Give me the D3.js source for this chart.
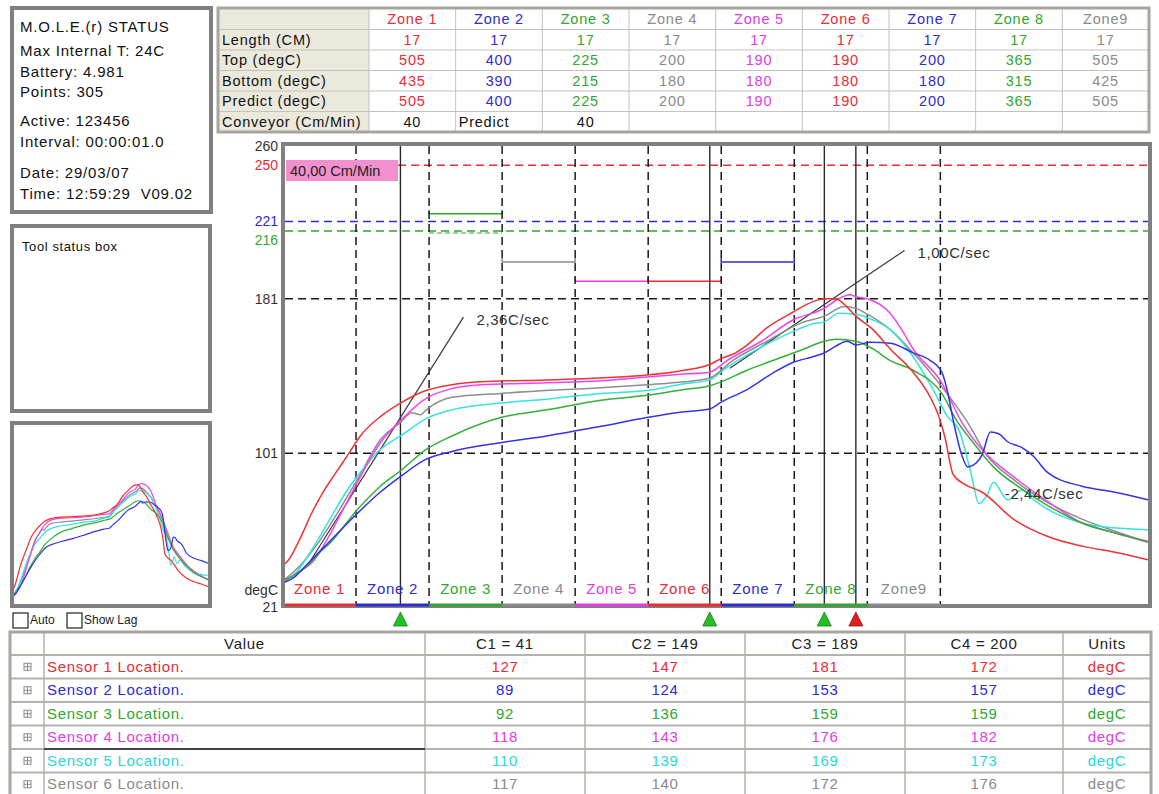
<!DOCTYPE html>
<html>
<head>
<meta charset="utf-8">
<script src="https://cdn.jsdelivr.net/npm/d3@7"></script>
<style>
  body { margin: 0; background: #fff; }
  svg text { font-family: "Liberation Sans", Arial, sans-serif; white-space: pre; }
</style>
</head>
<body>
<svg id="view" width="1159" height="794"></svg>
<script>
// ---- oven set-up ----
const zoneNames   = ["Zone 1", "Zone 2", "Zone 3", "Zone 4", "Zone 5", "Zone 6", "Zone 7", "Zone 8", "Zone9"];
const zoneLength  = [17, 17, 17, 17, 17, 17, 17, 17, 17];
const zoneTop     = [505, 400, 225, 200, 190, 190, 200, 365, 505];
const zoneBottom  = [435, 390, 215, 180, 180, 180, 180, 315, 425];
const zonePredict = [505, 400, 225, 200, 190, 190, 200, 365, 505];
const conveyorRow = ["40", "Predict", "40", "", "", "", "", "", ""];
const conveyorSpeed = 40; // cm/min
const tableRowLabels = ["Length (CM)", "Top (degC)", "Bottom (degC)", "Predict (degC)", "Conveyor (Cm/Min)"];

// ---- logger status ----
const statusLines = [
  "M.O.L.E.(r) STATUS", "Max Internal T: 24C", "Battery: 4.981", "Points: 305",
  "Active: 123456", "Interval: 00:00:01.0", "Date: 29/03/07", "Time: 12:59:29  V09.02"
];

// ---- axis ----
const yTicks = [260, 250, 221, 216, 181, 101, 21];
const gridLevels = [181, 101];
const limitLevels = [250, 221, 216];

// ---- sensor profiles: [seconds, degC] ----
const sensorNames = ["Sensor 1 Location.", "Sensor 2 Location.", "Sensor 3 Location.",
                     "Sensor 4 Location.", "Sensor 5 Location.", "Sensor 6 Location."];
const sensor1 = [[0,43],[2,46],[6,57],[10,70],[14,81],[18,90],[23,101],[27,110],[34,120],[41,127],[49,133],[59,136.5],[69,138],[92,139],[111,140],[127,141.5],[140,144],[149,147],[153,150],[158,153],[162,157],[169,166],[178,174],[185,179.5],[189,181],[193,181],[196,178],[200,172],[206,165],[212,155],[220,143],[226,130],[229,120],[231,110],[234,90],[238,85],[244,81],[255,67],[267,58],[279,53],[290,50],[302,46]];
const sensor2 = [[0,34],[4,37],[8,43],[16,55],[26,70],[34,81],[41,89],[50,98],[59,102],[76,106.5],[92,110],[111,115],[127,119.5],[140,122.5],[149,124],[153,127.5],[162,134],[171,142.5],[178,148],[185,151],[189,153],[193,156.5],[197,159],[200,157],[205,158.5],[212,158],[220,153],[226,149],[230,143],[232,133],[234,118],[237,100],[239,94],[242,96],[244,100],[247,112],[250,111],[253,107],[258,104],[262,99.5],[267,91],[279,84],[290,81],[302,77]];
const sensor3 = [[0,35],[5,39],[10,45],[13,50],[16,54],[26,72],[34,84],[41,92],[50,103],[59,110],[76,119.5],[92,123.5],[111,128.5],[127,131],[140,134],[149,136],[153,138],[162,144],[171,149],[181,154.5],[189,159],[193,160],[200,159],[206,155],[212,149],[220,144],[230,132],[235,118.5],[241,106.5],[248,94],[258,82.5],[267,74],[279,65],[290,60],[302,55.5]];
const sensor4 = [[0,35],[6,40],[11,46],[16,58],[21,72],[26,86],[30,97],[34,106.5],[41,118],[50,129.5],[59,134.5],[69,136.5],[92,137.5],[111,138.5],[127,140.5],[140,142],[149,143],[155,149],[167,159],[178,170],[189,176],[194,181],[198,183],[200,182],[204,181],[212,173.5],[216,165],[220,155],[230,137.5],[237,117],[244,103],[255,89],[267,76],[279,65],[290,60],[302,55]];
const sensor5 = [[0,34],[5,40],[10,51],[16,66],[22,81],[28,93],[34,103],[41,110],[50,119],[59,123.5],[76,127],[92,129],[111,132],[127,133.5],[140,137],[149,139],[155,145.5],[167,156],[178,164],[185,168],[189,169],[194,173.5],[200,173],[206,170],[212,165],[220,151],[227,134],[232,120],[236,113],[240,92],[243,75],[246,80],[248,86],[253,77],[258,82],[262,77],[267,72],[279,65],[290,62.5],[302,61.5]];
const sensor6 = [[0,35],[6,43],[11,52],[16,63],[21,75],[26,87.5],[34,108],[41,117],[45,122],[48,121],[50,123.5],[59,130],[76,132],[111,135],[127,136.5],[140,138],[149,140],[157,149],[169,159],[181,168.5],[189,172],[196,177],[200,176],[204,173],[212,165],[220,153],[230,135.5],[239,117],[246,99.5],[255,87.5],[267,75.5],[279,67],[290,61],[302,55]];
const sensorProfiles = [sensor1, sensor2, sensor3, sensor4, sensor5, sensor6];

// ---- cursors and their readings ----
const cursorTimes = [41, 149, 189, 200];
const cursorMarkers = ["#22c022", "#22c022", "#22c022", "#e02020"];
const readingsC1 = [127, 89, 92, 118, 110, 117];
const readingsC2 = [147, 124, 136, 143, 139, 140];
const readingsC3 = [181, 153, 159, 176, 169, 172];
const readingsC4 = [172, 157, 159, 182, 173, 176];
const cursorReadings = [readingsC1, readingsC2, readingsC3, readingsC4];

// ---- slope annotations: [t0, v0, t1, label, rate] ----
const slopeRise = [9, 44, 63, "2,36C/sec", 2.36];
const slopePeak = [156, 145, 217, "1,00C/sec", 1.00];
const slopeFall = [252, 80, "-2,44C/sec"];

// ---- palette ----
const C = {
  red: "#ec2b35", blue: "#2c2cd6", green: "#2ea82e", gray: "#8a8a8a",
  magenta: "#e63ae6", cyan: "#28d8d8"
};
const zoneColors   = [C.red, C.blue, C.green, C.gray, C.magenta, C.red, C.blue, C.green, C.gray];
const sensorColors = ["#f03232", "#3434e2", "#34b034", "#f044f0", "#36e2e2", "#8e8e8e"];
const sensorTextColors = [C.red, C.blue, C.green, C.magenta, C.cyan, C.gray];
const frameGray = "#808080";

const svg = d3.select("#view");

// ======== status box ========
svg.append("rect").attr("x", 12).attr("y", 8).attr("width", 199).attr("height", 204)
  .attr("fill", "#fff").attr("stroke", frameGray).attr("stroke-width", 4);
const statusY = [32, 56, 77, 97, 126, 147, 178, 199];
svg.selectAll("text.status").data(statusLines).join("text")
  .attr("class", "status").attr("x", 20).attr("y", (d, i) => statusY[i])
  .attr("font-size", 15).attr("letter-spacing", 0.8).attr("fill", "#111").text(d => d);

// ======== tool status box ========
svg.append("rect").attr("x", 12).attr("y", 226).attr("width", 198).attr("height", 185)
  .attr("fill", "#fff").attr("stroke", frameGray).attr("stroke-width", 4);
svg.append("text").attr("x", 22).attr("y", 251).attr("font-size", 13).attr("letter-spacing", 0.6)
  .attr("fill", "#111").text("Tool status box");

// ======== zone table ========
(function zoneTable() {
  const x0 = 218, x1 = 1149, labelW = 151, top = 9, rowH = 20.5;
  const colW = (x1 - x0 - labelW) / zoneNames.length;
  const nRows = 1 + tableRowLabels.length;
  const fs = 14.5, ls = 0.8;
  const g = svg.append("g");
  g.append("rect").attr("x", x0).attr("y", top).attr("width", x1 - x0).attr("height", nRows * rowH)
    .attr("fill", "#fff");
  g.append("rect").attr("x", x0).attr("y", top).attr("width", labelW).attr("height", nRows * rowH)
    .attr("fill", "#ebe8dc");
  for (let r = 1; r < nRows; r++) {
    g.append("line").attr("x1", x0).attr("x2", x1).attr("y1", top + r * rowH).attr("y2", top + r * rowH)
      .attr("stroke", "#c4c2bc").attr("stroke-width", 1);
  }
  for (let c = 0; c <= zoneNames.length; c++) {
    const xx = x0 + labelW + c * colW;
    g.append("line").attr("x1", xx).attr("x2", xx).attr("y1", top).attr("y2", top + nRows * rowH)
      .attr("stroke", "#c4c2bc").attr("stroke-width", 1);
  }
  g.append("rect").attr("x", x0).attr("y", top - 1).attr("width", x1 - x0).attr("height", nRows * rowH + 1)
    .attr("fill", "none").attr("stroke", "#a6a59e").attr("stroke-width", 3);

  const cx = i => x0 + labelW + (i + 0.5) * colW;
  const rowY = r => top + r * rowH + rowH / 2 + 5;
  g.selectAll("text.zh").data(zoneNames).join("text").attr("class", "zh")
    .attr("x", (d, i) => cx(i)).attr("y", rowY(0)).attr("text-anchor", "middle")
    .attr("font-size", fs).attr("letter-spacing", ls).attr("fill", (d, i) => zoneColors[i]).text(d => d);
  g.selectAll("text.rl").data(tableRowLabels).join("text").attr("class", "rl")
    .attr("x", x0 + 4).attr("y", (d, i) => rowY(i + 1)).attr("font-size", fs).attr("letter-spacing", ls)
    .attr("fill", "#111").text(d => d);
  [zoneLength, zoneTop, zoneBottom, zonePredict].forEach((arr, r) => {
    g.selectAll("text.v" + r).data(arr).join("text").attr("class", "v" + r)
      .attr("x", (d, i) => cx(i)).attr("y", rowY(r + 1)).attr("text-anchor", "middle")
      .attr("font-size", fs).attr("letter-spacing", ls).attr("fill", (d, i) => zoneColors[i]).text(d => d);
  });
  g.selectAll("text.cv").data(conveyorRow).join("text").attr("class", "cv")
    .attr("x", (d, i) => isNaN(+d) ? x0 + labelW + i * colW + 3 : cx(i))
    .attr("y", rowY(5)).attr("text-anchor", d => isNaN(+d) ? "start" : "middle")
    .attr("font-size", fs).attr("letter-spacing", ls).attr("fill", "#111").text(d => d);
})();

// ======== main profile chart ========
const plot = { left: 285, right: 1148, top: 146, bottom: 604 };
const x = d3.scaleLinear().domain([0, 302]).range([283, 1148]);
const y = d3.scaleLinear().domain([21, 260]).range([608, 146]);
const secPerZone = zoneLength.map(l => l / (conveyorSpeed / 60));
const zoneEdges = [0];
secPerZone.forEach(s => zoneEdges.push(zoneEdges[zoneEdges.length - 1] + s));

svg.append("rect").attr("x", plot.left - 2).attr("y", plot.top - 2)
  .attr("width", plot.right - plot.left + 4).attr("height", plot.bottom - plot.top + 4)
  .attr("fill", "#fff");

svg.append("clipPath").attr("id", "plotClip").append("rect")
  .attr("x", plot.left).attr("y", plot.top).attr("width", plot.right - plot.left).attr("height", plot.bottom - plot.top);
const pg = svg.append("g").attr("clip-path", "url(#plotClip)");

// zone set-points: top as a solid bar with end ticks, bottom as a dashed bar
zoneTop.forEach((v, i) => {
  const xa = x(zoneEdges[i]), xb = x(zoneEdges[i + 1]), yy = y(v);
  pg.append("path").attr("d", `M${xa},${yy - 4} V${yy} H${xb} V${yy - 4}`).attr("fill", "none")
    .attr("stroke", zoneColors[i]).attr("stroke-width", 1.5);
});
zoneBottom.forEach((v, i) => {
  if (v > 200) {
    pg.append("line").attr("x1", x(zoneEdges[i])).attr("x2", x(zoneEdges[i + 1])).attr("y1", y(v)).attr("y2", y(v))
      .attr("stroke", zoneColors[i]).attr("stroke-width", 1).attr("stroke-dasharray", "5,3");
  }
});

// limit lines
const limitColors = { 250: C.red, 221: C.blue, 216: C.green };
limitLevels.forEach(v => {
  pg.append("line").attr("x1", v === 250 ? 398 : plot.left).attr("x2", plot.right)
    .attr("y1", y(v)).attr("y2", y(v)).attr("stroke", limitColors[v])
    .attr("stroke-width", 1.5).attr("stroke-dasharray", "8,5");
});

// grid
gridLevels.forEach(v => {
  pg.append("line").attr("x1", plot.left).attr("x2", plot.right).attr("y1", y(v)).attr("y2", y(v))
    .attr("stroke", "#1a1a1a").attr("stroke-width", 1.5).attr("stroke-dasharray", "8,5");
});
zoneEdges.slice(1).forEach(t => {
  pg.append("line").attr("x1", x(t)).attr("x2", x(t)).attr("y1", plot.top).attr("y2", plot.bottom)
    .attr("stroke", "#1a1a1a").attr("stroke-width", 1.5).attr("stroke-dasharray", "8,5");
});

// cursors
cursorTimes.forEach(t => {
  pg.append("line").attr("x1", x(t)).attr("x2", x(t)).attr("y1", plot.top).attr("y2", plot.bottom)
    .attr("stroke", "#2a2a2a").attr("stroke-width", 1.4);
});

// slope annotations
[slopeRise, slopePeak].forEach(s => {
  const [t0, v0, t1, label, rate] = s;
  const v1 = v0 + rate * (t1 - t0);
  pg.append("line").attr("x1", x(t0)).attr("y1", y(v0)).attr("x2", x(t1)).attr("y2", y(v1))
    .attr("stroke", "#3a3a3a").attr("stroke-width", 1.2);
  pg.append("text").attr("x", x(t1) + 13).attr("y", y(v1) + 8).attr("font-size", 15)
    .attr("letter-spacing", 0.6).attr("fill", "#333").text(label);
});

// sensor curves
const line = d3.line().x(d => x(d[0])).y(d => y(d[1])).curve(d3.curveMonotoneX);
sensorProfiles.slice().reverse().forEach((p, k) => {
  const i = sensorProfiles.length - 1 - k;
  pg.append("path").attr("d", line(p)).attr("fill", "none")
    .attr("stroke", sensorColors[i]).attr("stroke-width", 1.5);
});

pg.append("text").attr("x", x(slopeFall[0])).attr("y", y(slopeFall[1]) + 5).attr("font-size", 15)
  .attr("letter-spacing", 0.6).attr("fill", "#333").text(slopeFall[2]);

// speed badge
svg.append("rect").attr("x", 286).attr("y", 160).attr("width", 112).attr("height", 21).attr("fill", "#f28fcf");
svg.append("text").attr("x", 290).attr("y", 176).attr("font-size", 14.5).attr("fill", "#222")
  .text(conveyorSpeed.toFixed(2).replace(".", ",") + " Cm/Min");

// zone labels
zoneNames.forEach((z, i) => {
  pg.append("text").attr("x", x((zoneEdges[i] + zoneEdges[i + 1]) / 2)).attr("y", 594)
    .attr("text-anchor", "middle").attr("font-size", 15).attr("letter-spacing", 0.7)
    .attr("fill", zoneColors[i]).text(z);
});

// frame
svg.append("rect").attr("x", 283).attr("y", 144).attr("width", 867).attr("height", 462)
  .attr("fill", "none").attr("stroke", frameGray).attr("stroke-width", 4);
zoneNames.forEach((z, i) => {
  svg.append("line").attr("x1", x(zoneEdges[i]) + (i === 0 ? 2 : 0)).attr("x2", x(zoneEdges[i + 1]))
    .attr("y1", 605).attr("y2", 605).attr("stroke", zoneColors[i]).attr("stroke-width", 3);
});

// y tick labels (216 sits below its line so it clears 221)
const tickColors = { 250: C.red, 221: C.blue, 216: C.green };
const tickShift = { 21: 4, 216: 14 };
svg.selectAll("text.yt").data(yTicks).join("text").attr("class", "yt")
  .attr("x", 278).attr("y", d => y(d) + (tickShift[d] !== undefined ? tickShift[d] : 5)).attr("text-anchor", "end")
  .attr("font-size", 14).attr("fill", d => tickColors[d] || "#333").text(d => d);
svg.append("text").attr("x", 278).attr("y", 595).attr("text-anchor", "end")
  .attr("font-size", 14).attr("fill", "#333").text("degC");

// cursor markers
cursorTimes.forEach((t, i) => {
  const cx = x(t);
  svg.append("path").attr("d", `M${cx},612 L${cx + 7},626 L${cx - 7},626 Z`)
    .attr("fill", cursorMarkers[i]).attr("stroke", d3.color(cursorMarkers[i]).darker(1.2)).attr("stroke-width", 0.8);
});

// ======== thumbnail ========
(function thumb() {
  svg.append("rect").attr("x", 12).attr("y", 423).attr("width", 198).attr("height", 183)
    .attr("fill", "#fff").attr("stroke", frameGray).attr("stroke-width", 4);
  const tx = d3.scaleLinear().domain([0, 302]).range([13, 209]);
  const ty = d3.scaleLinear().domain([21, 260]).range([606, 425]);
  svg.append("clipPath").attr("id", "thumbClip").append("rect")
    .attr("x", 14).attr("y", 425).attr("width", 194).attr("height", 179);
  const tg = svg.append("g").attr("clip-path", "url(#thumbClip)");
  const tl = d3.line().x(d => tx(d[0])).y(d => ty(d[1])).curve(d3.curveMonotoneX);
  sensorProfiles.slice().reverse().forEach((p, k) => {
    const i = sensorProfiles.length - 1 - k;
    tg.append("path").attr("d", tl(p)).attr("fill", "none").attr("stroke", sensorColors[i]).attr("stroke-width", 1.2);
  });
  [["Auto", 13], ["Show Lag", 67]].forEach(([lab, bx]) => {
    svg.append("rect").attr("x", bx).attr("y", 613).attr("width", 15).attr("height", 15)
      .attr("fill", "#fff").attr("stroke", "#222").attr("stroke-width", 1.2);
    svg.append("text").attr("x", bx + 17).attr("y", 624).attr("font-size", 12).attr("fill", "#222").text(lab);
  });
})();

// ======== cursor readings table ========
(function readings() {
  const cols = [10, 44, 425, 585, 745, 905, 1063, 1151];
  const top = 632, headH = 23, rowH = 23.5;
  const fs = 15, ls = 0.7;
  const g = svg.append("g");
  const bottom = top + headH + rowH * sensorNames.length + 4;
  g.append("rect").attr("x", cols[0]).attr("y", top).attr("width", cols[7] - cols[0]).attr("height", bottom - top)
    .attr("fill", "#fff");
  for (let r = 0; r <= sensorNames.length; r++) {
    const yy = top + headH + r * rowH;
    g.append("line").attr("x1", cols[0]).attr("x2", cols[7]).attr("y1", yy).attr("y2", yy)
      .attr("stroke", "#b4b2ac").attr("stroke-width", 2);
  }
  cols.slice(1, 7).forEach(cx => {
    g.append("line").attr("x1", cx).attr("x2", cx).attr("y1", top).attr("y2", bottom)
      .attr("stroke", "#b4b2ac").attr("stroke-width", 1.5);
  });
  g.append("rect").attr("x", cols[0]).attr("y", top).attr("width", cols[7] - cols[0]).attr("height", bottom - top)
    .attr("fill", "none").attr("stroke", "#a6a59e").attr("stroke-width", 3);

  const headers = ["Value"].concat(cursorTimes.map((t, i) => `C${i + 1} = ${t}`), ["Units"]);
  headers.forEach((h, i) => {
    g.append("text").attr("x", (cols[i + 1] + cols[i + 2]) / 2 + (i === 0 ? 10 : 0)).attr("y", top + 17)
      .attr("text-anchor", "middle").attr("font-size", fs).attr("letter-spacing", ls).attr("fill", "#222").text(h);
  });
  sensorNames.forEach((name, r) => {
    const cy = top + headH + r * rowH + rowH / 2;
    const col = sensorTextColors[r];
    g.append("rect").attr("x", 24).attr("y", cy - 3.5).attr("width", 7).attr("height", 7)
      .attr("fill", "none").attr("stroke", "#8a8a8a").attr("stroke-width", 1);
    g.append("path").attr("d", `M24,${cy} H31 M27.5,${cy - 3.5} V${cy + 3.5}`).attr("stroke", "#8a8a8a").attr("stroke-width", 1);
    g.append("text").attr("x", 47).attr("y", cy + 5).attr("font-size", fs).attr("letter-spacing", ls)
      .attr("fill", col).text(name);
    cursorReadings.forEach((arr, c) => {
      g.append("text").attr("x", (cols[c + 2] + cols[c + 3]) / 2).attr("y", cy + 5)
        .attr("text-anchor", "middle").attr("font-size", fs).attr("letter-spacing", ls).attr("fill", col).text(arr[r]);
    });
    g.append("text").attr("x", (cols[6] + cols[7]) / 2).attr("y", cy + 5)
      .attr("text-anchor", "middle").attr("font-size", fs).attr("letter-spacing", ls).attr("fill", col).text("degC");
  });
  // focus underline on the selected sensor row
  const fy = top + headH + 4 * rowH;
  g.append("line").attr("x1", cols[1]).attr("x2", cols[2]).attr("y1", fy).attr("y2", fy)
    .attr("stroke", "#444").attr("stroke-width", 2);
})();
</script>
</body>
</html>
